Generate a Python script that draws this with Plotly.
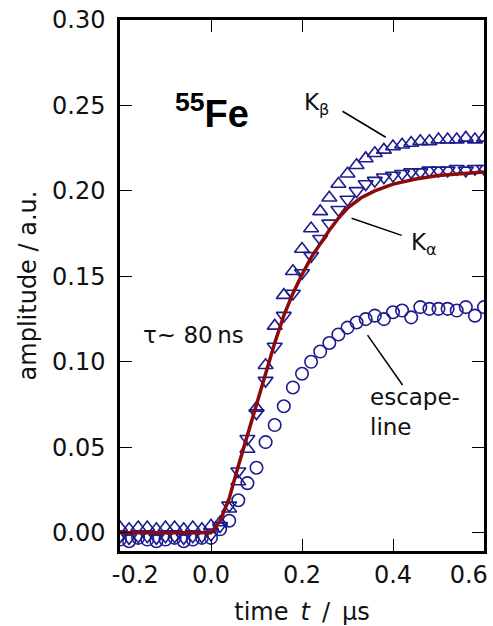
import plotly.graph_objects as go

# time axis (µs)
time_us = [-0.20, -0.18, -0.16, -0.14, -0.12, -0.10, -0.08, -0.06, -0.04, -0.02, 0.00,
           0.02, 0.04, 0.06, 0.08, 0.10, 0.12, 0.14, 0.16, 0.18, 0.20,
           0.22, 0.24, 0.26, 0.28, 0.30, 0.32, 0.34, 0.36, 0.38, 0.40,
           0.42, 0.44, 0.46, 0.48, 0.50, 0.52, 0.54, 0.56, 0.58, 0.60]

k_beta = [0.003, 0.002, 0.003, 0.003, 0.002, 0.003, 0.003, 0.002, 0.003, 0.002, 0.004,
          0.006, 0.014, 0.030, 0.049, 0.073, 0.098, 0.121, 0.139, 0.153, 0.166,
          0.178, 0.188, 0.196, 0.204, 0.210, 0.215, 0.219, 0.222, 0.224, 0.226,
          0.227, 0.228, 0.229, 0.229, 0.230, 0.230, 0.230, 0.231, 0.230, 0.231]

k_alpha = [-0.002, -0.003, -0.002, -0.002, -0.003, -0.002, -0.002, -0.003, -0.002, -0.002, -0.001,
           0.004, 0.016, 0.036, 0.055, 0.070, 0.089, 0.109, 0.127, 0.140, 0.152,
           0.162, 0.172, 0.181, 0.189, 0.195, 0.200, 0.204, 0.206, 0.208, 0.209,
           0.210, 0.211, 0.211, 0.212, 0.212, 0.212, 0.213, 0.212, 0.213, 0.213]

escape = [-0.004, -0.005, -0.003, -0.004, -0.005, -0.004, -0.003, -0.005, -0.004, -0.003, -0.003,
          0.002, 0.007, 0.019, 0.029, 0.038, 0.053, 0.063, 0.074, 0.085, 0.093,
          0.100, 0.106, 0.111, 0.116, 0.120, 0.123, 0.125, 0.127, 0.125, 0.129,
          0.130, 0.126, 0.132, 0.131, 0.131, 0.131, 0.130, 0.132, 0.127, 0.132]

# fit curve (tau ~ 80 ns)
fit_t = [-0.20, 0.00, 0.02, 0.04, 0.06, 0.08, 0.10, 0.12, 0.14, 0.16, 0.18, 0.20,
         0.22, 0.24, 0.26, 0.28, 0.30, 0.33, 0.36, 0.40, 0.45, 0.50, 0.55, 0.60]
fit_a = [0.000, 0.000, 0.007, 0.020, 0.039, 0.057, 0.075, 0.093, 0.111, 0.127, 0.140, 0.151,
         0.161, 0.169, 0.177, 0.184, 0.190, 0.196, 0.200, 0.204, 0.207, 0.209, 0.210, 0.211]

x_tickvals = [-0.2, 0.0, 0.2, 0.4, 0.6]
x_ticktext = ["\u2007\u2007-0.2", "0.0", "0.2", "0.4", "0.6\u2007\u2007\u2060"]
y_tickvals = [0.00, 0.05, 0.10, 0.15, 0.20, 0.25, 0.30]
y_ticktext = ["0.00", "0.05", "0.10", "0.15", "0.20", "0.25", "0.30"]

NAVY = "#1c1c8e"
RED = "#8c0a0a"
FONT = "DejaVu Sans"

fig = go.Figure()
fig.add_trace(go.Scatter(x=time_us, y=escape, mode="markers", name="escape-line",
                         marker=dict(symbol="circle-open", size=12.5, color=NAVY,
                                     line=dict(width=1.6, color=NAVY))))
fig.add_trace(go.Scatter(x=time_us, y=k_beta, mode="markers", name="Kβ",
                         marker=dict(symbol="triangle-up-open", size=13, color=NAVY,
                                     line=dict(width=1.6, color=NAVY))))
fig.add_trace(go.Scatter(x=time_us, y=k_alpha, mode="markers", name="Kα",
                         marker=dict(symbol="triangle-down-open", size=13, color=NAVY,
                                     line=dict(width=1.6, color=NAVY))))
fig.add_trace(go.Scatter(x=fit_t, y=fit_a, mode="lines", name="fit",
                         line=dict(color=RED, width=3.5)))

axis_common = dict(showgrid=False, zeroline=False, showline=True, linecolor="black",
                   linewidth=2.5, mirror="ticks", ticks="inside", ticklen=12,
                   tickwidth=1.2, tickcolor="black", automargin=False,
                   tickfont=dict(family=FONT, size=24, color="#111111"))

fig.update_xaxes(range=[-0.2, 0.6], tickmode="array", tickvals=x_tickvals,
                 ticktext=x_ticktext, ticklabelstandoff=0, ticklabeloverflow="allow",
                 title=dict(text="time\u2002<i>t</i>\u2002/\u2002µs",
                            font=dict(family=FONT, size=24, color="#111111"), standoff=16),
                 **axis_common)
fig.update_yaxes(range=[-0.0107, 0.30], tickmode="array", tickvals=y_tickvals,
                 ticktext=y_ticktext, ticklabelstandoff=7,
                 title=dict(text="amplitude / a.u.",
                            font=dict(family=FONT, size=24, color="#111111"), standoff=9),
                 **axis_common)

ann_font = dict(family=FONT, size=23, color="#111111")
annotations = [
    dict(x=-0.083, y=0.2465, text="<b><sup>55</sup>Fe</b>", showarrow=False,
         xanchor="left", yanchor="middle",
         font=dict(family="Liberation Sans", size=38, color="black")),
    dict(x=0.201, y=0.251, text="K<sub>β</sub>", showarrow=False,
         xanchor="left", yanchor="middle", font=ann_font),
    dict(x=0.435, y=0.169, text="K<sub>α</sub>", showarrow=False,
         xanchor="left", yanchor="middle", font=ann_font),
    dict(x=0.344, y=0.0708, text="escape-<br>line", showarrow=False, align="left",
         xanchor="left", yanchor="middle", font=ann_font),
    dict(x=-0.153, y=0.1159, text="τ~ 80\u2009ns", showarrow=False,
         xanchor="left", yanchor="middle", font=dict(family=FONT, size=23, color="#111111")),
]

leader_lines = [
    (0.289, 0.2466, 0.384, 0.2314),
    (0.309, 0.184, 0.419, 0.174),
    (0.344, 0.1156, 0.421, 0.0864),
]
shapes = [dict(type="line", xref="x", yref="y", x0=a, y0=b, x1=c, y1=d,
               line=dict(color="black", width=1.5)) for a, b, c, d in leader_lines]

fig.update_layout(width=493, height=626, margin=dict(l=120, r=9, t=20, b=75),
                  plot_bgcolor="white", paper_bgcolor="white", showlegend=False,
                  annotations=annotations, shapes=shapes)

fig.write_html("out.html", config={"displayModeBar": False},
               post_script="document.body.style.margin='0';document.body.style.overflow='hidden';")
